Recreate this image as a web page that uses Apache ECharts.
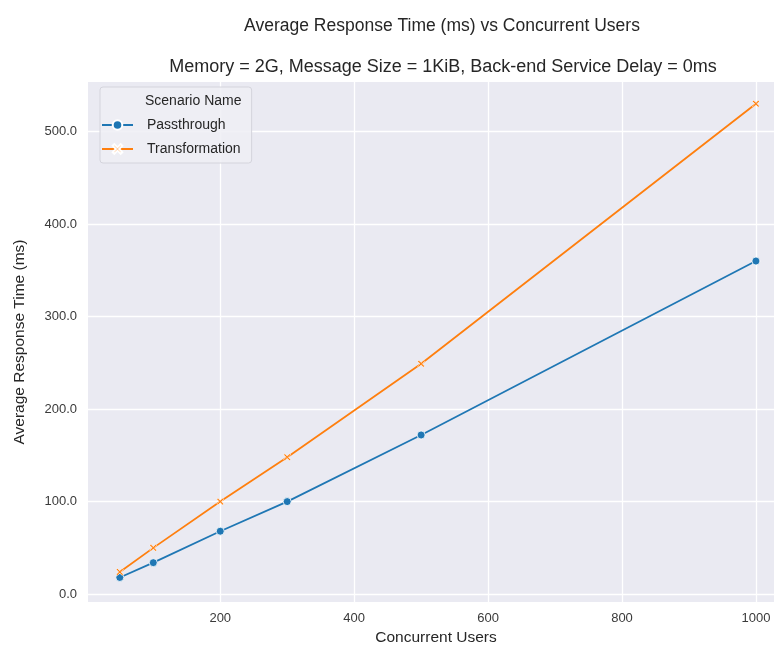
<!DOCTYPE html>
<html>
<head>
<meta charset="utf-8">
<script src="https://cdn.jsdelivr.net/npm/echarts@6/dist/echarts.min.js"></script>
<style>
html,body{margin:0;padding:0;background:#fff;}
#chart{width:774px;height:647px;}
</style>
</head>
<body>
<div id="chart"></div>
<script>
const concurrentUsers = [50, 100, 200, 300, 500, 1000];
const passthrough = [18, 34, 68, 100, 172, 360];
const transformation = [24, 50, 100, 148, 249, 530];
const xTicks = [200, 400, 600, 800, 1000];
const yTicks = [0, 100, 200, 300, 400, 500];
const seriesNames = ['Passthrough', 'Transformation'];

const FONT = '"Liberation Sans", Arial, sans-serif';
const chart = echarts.init(document.getElementById('chart'), null, {renderer: 'canvas'});
const xMark = 'path://M0,1 L1,0 L3,2 L5,0 L6,1 L4,3 L6,5 L5,6 L3,4 L1,6 L0,5 L2,3 Z';

chart.setOption({
  animation: false,
  backgroundColor: '#ffffff',
  textStyle: {fontFamily: FONT},
  title: [
    {text: 'Average Response Time (ms) vs Concurrent Users', left: 437, top: 12, textAlign: 'center',
     textStyle: {fontFamily: FONT, fontSize: 17.5, fontWeight: 'normal', color: '#262626'}},
    {text: 'Memory = 2G, Message Size = 1KiB, Back-end Service Delay = 0ms', left: 438, top: 53, textAlign: 'center',
     textStyle: {fontFamily: FONT, fontSize: 18, fontWeight: 'normal', color: '#262626'}}
  ],
  grid: {left: 88, right: 0, top: 82, bottom: 45, show: true, backgroundColor: '#eaeaf2', borderWidth: 0,
         containLabel: false, outerBoundsMode: 'none'},
  legend: {
    orient: 'vertical', left: 100, top: 87,
    padding: [31, 11, 7, 1],
    itemWidth: 31, itemHeight: 12, itemGap: 10,
    backgroundColor: 'rgba(238,238,244,0.85)', borderColor: '#d4d4dc', borderWidth: 1, borderRadius: 3,
    textStyle: {fontFamily: FONT, fontSize: 14, color: '#262626', padding: [0, 0, 0, 9]},
    data: seriesNames
  },
  graphic: [
    {type: 'text', left: 145, top: 94, z: 100,
     style: {text: 'Scenario Name', fontFamily: FONT, fontSize: 14, fill: '#262626'}}
  ],
  xAxis: {
    type: 'value', min: 2.5, max: 1027,
    name: 'Concurrent Users', nameLocation: 'middle', nameGap: 28,
    nameTextStyle: {fontFamily: FONT, fontSize: 15.5, color: '#262626', padding: [0, 0, 0, 10]},
    axisLine: {show: false}, axisTick: {show: false, customValues: xTicks},
    axisLabel: {customValues: xTicks, fontFamily: FONT, fontSize: 13, color: '#3a3a3a', margin: 10,
      formatter: v => String(Math.round(v))},
    splitLine: {show: true, lineStyle: {color: '#ffffff', width: 1.3}}
  },
  yAxis: {
    type: 'value', min: -8.5, max: 553.5,
    name: 'Average Response Time (ms)', nameLocation: 'middle', nameGap: 60, nameRotate: 90,
    nameTextStyle: {fontFamily: FONT, fontSize: 15.5, color: '#262626'},
    axisLine: {show: false}, axisTick: {show: false, customValues: yTicks},
    axisLabel: {customValues: yTicks, fontFamily: FONT, fontSize: 13, color: '#3a3a3a', margin: 11,
      formatter: v => v.toFixed(1)},
    splitLine: {show: true, lineStyle: {color: '#ffffff', width: 1.3}}
  },
  series: [
    {name: seriesNames[0], type: 'line',
     data: concurrentUsers.map((x, i) => [x, passthrough[i]]),
     symbol: 'circle', symbolSize: 8, showAllSymbol: true,
     lineStyle: {color: '#1f77b4', width: 1.8},
     itemStyle: {color: '#1f77b4', borderColor: '#ffffff', borderWidth: 0.8}},
    {name: seriesNames[1], type: 'line',
     data: concurrentUsers.map((x, i) => [x, transformation[i]]),
     symbol: xMark, symbolSize: 7, showAllSymbol: true,
     lineStyle: {color: '#ff7f0e', width: 1.8},
     itemStyle: {color: '#ff7f0e', borderColor: '#ffffff', borderWidth: 0.6}}
  ]
});
</script>
</body>
</html>
